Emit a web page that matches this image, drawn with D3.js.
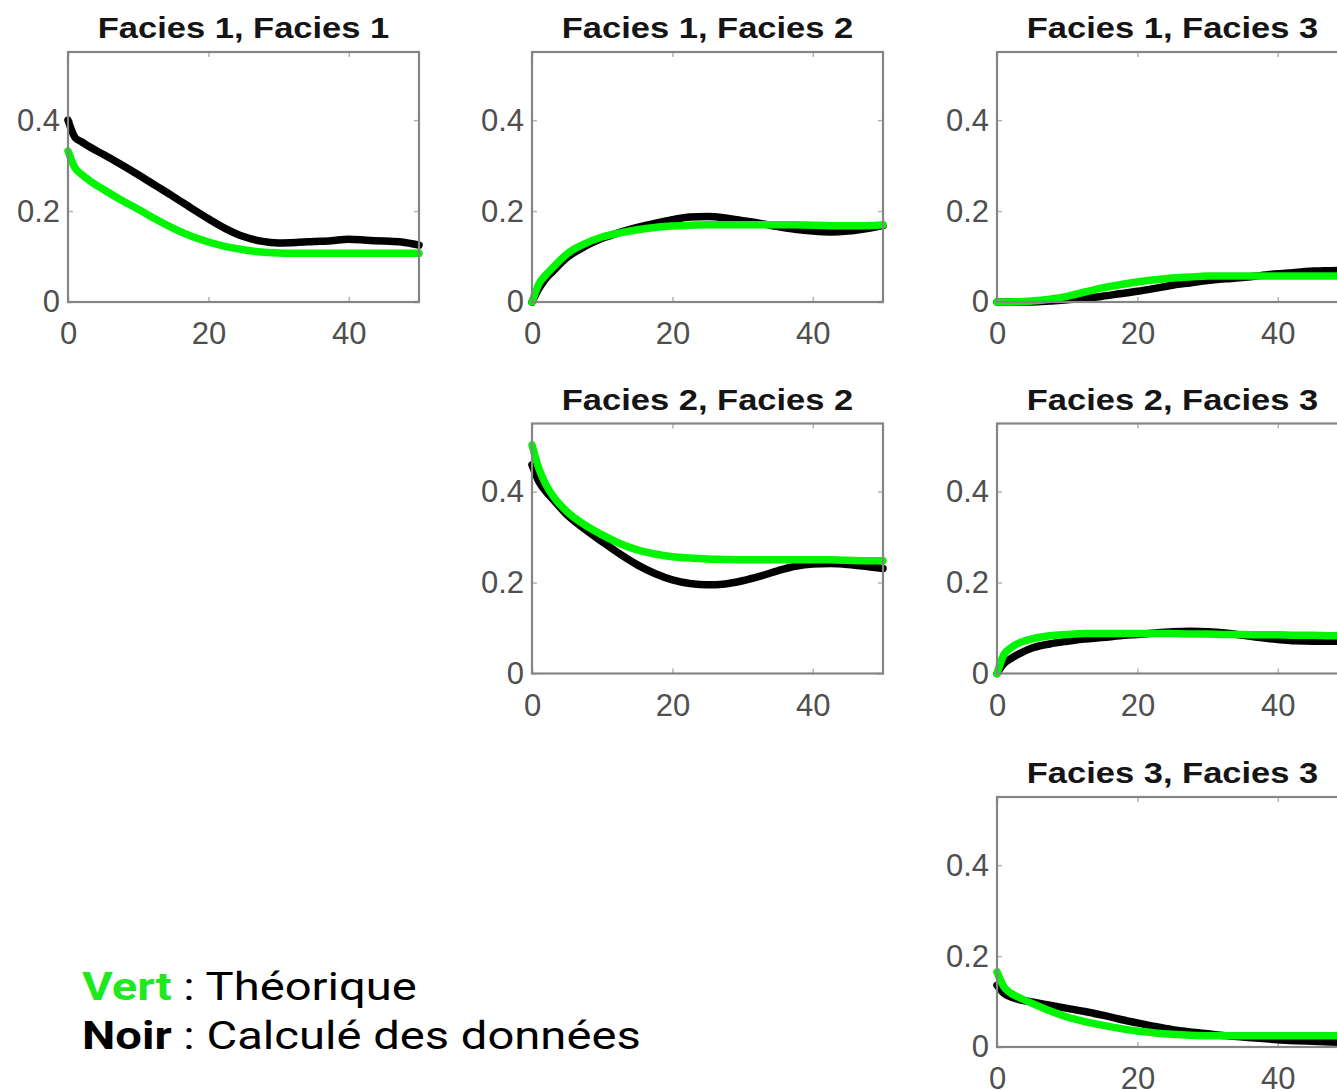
<!DOCTYPE html>
<html>
<head>
<meta charset="utf-8">
<script src="https://cdn.jsdelivr.net/npm/d3@7/dist/d3.min.js"></script>
<style>
  html, body { margin: 0; padding: 0; background: #fff; overflow: hidden; }
  svg { display: block; }
</style>
</head>
<body>
<svg id="chart" width="1337" height="1090"></svg>
<script>
// Lag distances shared by every covariance curve
const lags = [0, 1, 2, 3, 5, 7.5, 10, 12.5, 15, 17.5, 20, 22.5, 25, 27.5, 30, 32.5, 35, 37.5, 40, 42.5, 45, 47.5, 50];

// Panel titles (facies pair)
const titles = ["Facies 1, Facies 1", "Facies 1, Facies 2", "Facies 1, Facies 3",
                "Facies 2, Facies 2", "Facies 2, Facies 3", "Facies 3, Facies 3"];

// Grid slot of each panel: [row, column]
const slots = [[0, 0], [0, 1], [0, 2], [1, 1], [1, 2], [2, 2]];

// Experimental covariance computed from the data (black)
const computed11 = [0.400, 0.362, 0.352, 0.342, 0.325, 0.303, 0.280, 0.256, 0.232, 0.207, 0.183, 0.161, 0.144, 0.134, 0.130, 0.131, 0.133, 0.135, 0.138, 0.136, 0.134, 0.132, 0.125];
const computed12 = [0.000, 0.030, 0.052, 0.068, 0.098, 0.122, 0.140, 0.153, 0.164, 0.173, 0.181, 0.187, 0.188, 0.185, 0.179, 0.173, 0.166, 0.160, 0.156, 0.154, 0.156, 0.161, 0.168];
const computed13 = [0.000, 0.000, 0.000, 0.000, 0.000, 0.002, 0.005, 0.008, 0.0125, 0.018, 0.0235, 0.030, 0.037, 0.042, 0.047, 0.051, 0.054, 0.058, 0.062, 0.065, 0.068, 0.069, 0.070];
const computed22 = [0.459, 0.422, 0.400, 0.383, 0.349, 0.318, 0.290, 0.263, 0.239, 0.220, 0.206, 0.198, 0.195, 0.197, 0.204, 0.214, 0.226, 0.236, 0.241, 0.242, 0.240, 0.236, 0.231];
const computed23 = [0.000, 0.022, 0.033, 0.042, 0.056, 0.065, 0.071, 0.076, 0.079, 0.083, 0.086, 0.089, 0.092, 0.093, 0.092, 0.089, 0.084, 0.079, 0.075, 0.072, 0.071, 0.071, 0.072];
const computed33 = [0.136, 0.118, 0.110, 0.105, 0.099, 0.092, 0.085, 0.078, 0.070, 0.061, 0.053, 0.045, 0.038, 0.033, 0.029, 0.025, 0.022, 0.019, 0.016, 0.014, 0.0125, 0.011, 0.010];

// Theoretical covariance model (green)
const theory11 = [0.332, 0.295, 0.280, 0.268, 0.248, 0.225, 0.204, 0.182, 0.162, 0.145, 0.132, 0.122, 0.115, 0.110, 0.108, 0.107, 0.107, 0.107, 0.107, 0.107, 0.107, 0.107, 0.107];
const theory12 = [0.000, 0.040, 0.060, 0.076, 0.106, 0.128, 0.143, 0.152, 0.159, 0.164, 0.167, 0.169, 0.170, 0.170, 0.170, 0.170, 0.170, 0.170, 0.169, 0.168, 0.168, 0.168, 0.170];
const theory13 = [0.000, 0.000, 0.000, 0.0005, 0.002, 0.006, 0.0125, 0.022, 0.031, 0.038, 0.044, 0.049, 0.053, 0.055, 0.057, 0.057, 0.057, 0.057, 0.057, 0.057, 0.057, 0.057, 0.057];
const theory22 = [0.503, 0.450, 0.415, 0.390, 0.356, 0.327, 0.305, 0.286, 0.272, 0.263, 0.257, 0.254, 0.252, 0.251, 0.250, 0.250, 0.250, 0.250, 0.250, 0.250, 0.249, 0.248, 0.248];
const theory23 = [0.000, 0.042, 0.057, 0.066, 0.076, 0.083, 0.086, 0.088, 0.088, 0.088, 0.088, 0.088, 0.088, 0.087, 0.087, 0.086, 0.086, 0.085, 0.085, 0.084, 0.084, 0.083, 0.083];
const theory33 = [0.165, 0.132, 0.118, 0.110, 0.096, 0.080, 0.066, 0.056, 0.048, 0.041, 0.035, 0.031, 0.028, 0.026, 0.025, 0.025, 0.025, 0.025, 0.025, 0.025, 0.025, 0.025, 0.025];

const computedSeries = [computed11, computed12, computed13, computed22, computed23, computed33];
const theorySeries = [theory11, theory12, theory13, theory22, theory23, theory33];

// Axis ticks
const xTicks = [0, 20, 40];
const yTicks = [0, 0.2, 0.4];

// Legend entries
const legendItems = [
  { key: "Vert", text: " : Théorique", color: "#1ee81e" },
  { key: "Noir", text: " : Calculé des données", color: "#000000" }
];

// ---- layout ----
const colLeft = [68, 532, 997];
const rowTop = [52, 423.5, 797];
const plotW = 351, plotH = 250;

const svg = d3.select("#chart");

const x = d3.scaleLinear().domain([0, 50]).range([0, plotW]);
const y = d3.scaleLinear().domain([0, 0.55]).range([plotH, 0]);

const line = d3.line()
  .x(d => x(d[0]))
  .y(d => y(d[1]))
  .curve(d3.curveMonotoneX);

titles.forEach((title, i) => {
  const [r, c] = slots[i];
  const g = svg.append("g").attr("transform", `translate(${colLeft[c]},${rowTop[r]})`);

  // white plotting area
  g.append("rect").attr("width", plotW).attr("height", plotH).attr("fill", "#fff");

  // inward ticks on all four sides
  const tickStyle = sel => {
    sel.select(".domain").remove();
    sel.selectAll(".tick line").attr("stroke", "#b5b5b5").attr("stroke-width", 1.5);
  };
  const labelStyle = sel => {
    sel.selectAll(".tick text")
      .attr("fill", "#4f4f4f")
      .style("font-family", "'Liberation Sans', Arial, sans-serif")
      .style("font-size", "31px");
  };

  g.append("g").attr("transform", `translate(0,${plotH})`)
    .call(d3.axisBottom(x).tickValues(xTicks).tickSize(-5).tickPadding(20).tickFormat(d3.format("d")))
    .call(tickStyle).call(labelStyle)
    .selectAll(".tick text").attr("dy", "0.71em");
  g.append("g")
    .call(d3.axisTop(x).tickValues(xTicks).tickSize(-5).tickFormat(""))
    .call(tickStyle);
  g.append("g")
    .call(d3.axisLeft(y).tickValues(yTicks).tickSize(-5).tickPadding(8).tickFormat(d3.format("~g")))
    .call(tickStyle).call(labelStyle);
  g.append("g").attr("transform", `translate(${plotW},0)`)
    .call(d3.axisRight(y).tickValues(yTicks).tickSize(-5).tickFormat(""))
    .call(tickStyle);

  // experimental curve (black) then model (green) on top
  const black = lags.map((h, k) => [h, computedSeries[i][k]]);
  const green = lags.map((h, k) => [h, theorySeries[i][k]]);
  g.append("path").datum(black)
    .attr("d", line).attr("fill", "none")
    .attr("stroke", "#000").attr("stroke-width", 7.5)
    .attr("stroke-linejoin", "round").attr("stroke-linecap", "round");
  g.append("path").datum(green)
    .attr("d", line).attr("fill", "none")
    .attr("stroke", "#00f500").attr("stroke-width", 7.5)
    .attr("stroke-linejoin", "round").attr("stroke-linecap", "round");

  // axes box
  g.append("rect").attr("width", plotW).attr("height", plotH)
    .attr("fill", "none").attr("stroke", "#858585").attr("stroke-width", 2.2);

  // title
  g.append("text")
    .attr("transform", `translate(${plotW / 2},-14) scale(1.15,1)`)
    .attr("text-anchor", "middle")
    .style("font-family", "'Liberation Sans', Arial, sans-serif")
    .style("font-weight", "bold")
    .style("font-size", "30px")
    .attr("fill", "#151515")
    .text(title);
});

// legend
const legend = svg.append("g").attr("transform", "translate(82,0) scale(1.21,1)");
legendItems.forEach((item, i) => {
  const t = legend.append("text")
    .attr("x", 0).attr("y", 1000 + i * 49)
    .style("font-family", "Roboto, 'Open Sans', sans-serif")
    .style("font-size", "39px");
  t.append("tspan").attr("font-weight", "bold").attr("fill", item.color).text(item.key);
  t.append("tspan").attr("fill", "#000").text(item.text);
});
</script>
</body>
</html>
